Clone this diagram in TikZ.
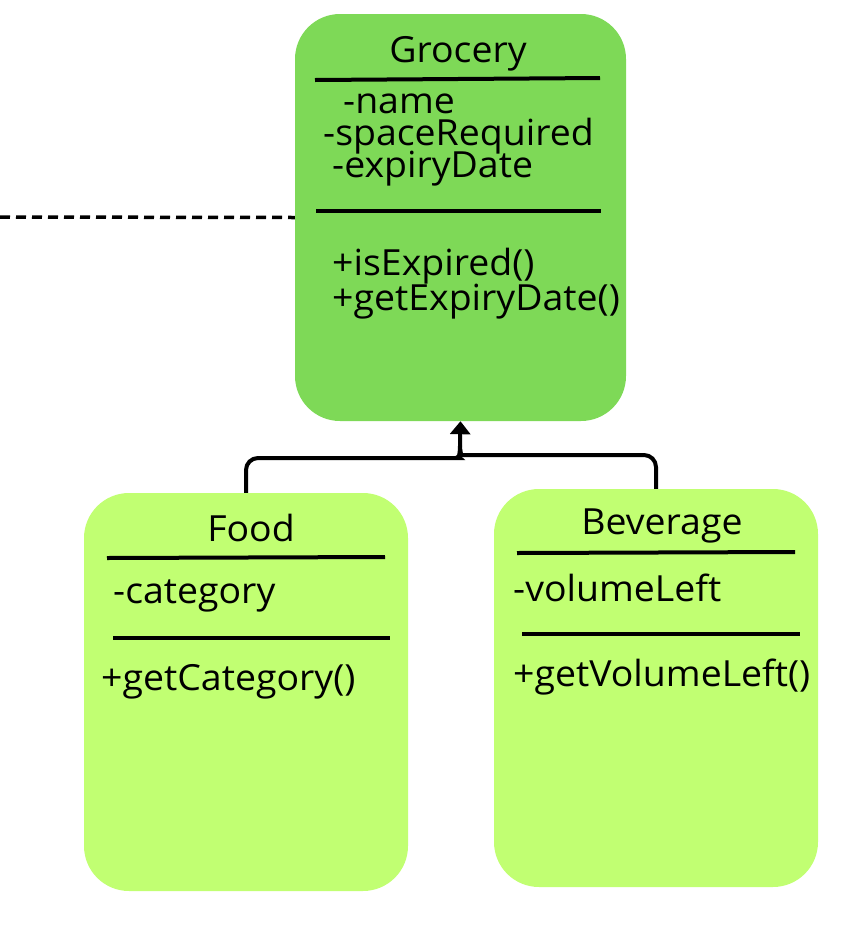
\documentclass[tikz,border=0pt]{standalone}
\usepackage{fontspec}
\setmainfont[FakeStretch=1.04]{Open Sans}
\usetikzlibrary{arrows.meta}
\definecolor{grocg}{HTML}{7ED957}
\definecolor{subg}{HTML}{C1FF72}
\begin{document}
\begin{tikzpicture}[x=1pt,y=-1pt,
  box/.style={rectangle, rounded corners=45pt, inner sep=0pt, draw=none},
  txt/.style={anchor=base west, inner sep=0pt, font=\fontsize{36}{42}\selectfont},
  ttl/.style={anchor=base, inner sep=0pt, font=\fontsize{36}{42}\selectfont},
  sep/.style={line width=4pt},
  conn/.style={line width=4pt, rounded corners=12pt},
  tipconn/.style={line width=4pt, -{Triangle[length=13pt,width=20pt]}},
  dashconn/.style={line width=3.5pt, dash pattern=on 10pt off 6pt}]
\useasboundingbox (0,0) rectangle (868,938);
% boxes
\node[box, fill=grocg, minimum width=331pt, minimum height=407pt] (grocery) at (460.5,217.5) {};
\node[box, fill=subg, minimum width=324pt, minimum height=398pt] (food) at (246,692) {};
\node[box, fill=subg, minimum width=324pt, minimum height=398pt] (bev) at (656,688) {};
% Grocery contents
\node[ttl] (gtitle) at (458,62) {Grocery};
\draw[sep] (315,80) -- (600,78);
\node[txt] (gname) at (343,113) {-name};
\node[txt] (gspace) at (323,145) {-spaceRequired};
\node[txt] (gexp) at (332,177) {-expiryDate};
\draw[sep] (316,211) -- (601,211);
\node[txt] (gisexp) at (332,275) {+isExpired()};
\node[txt] (ggetexp) at (332,310) {+getExpiryDate()};
% Food contents
\node[ttl] (ftitle) at (251,541) {Food};
\draw[sep] (107,558) -- (385,557);
\node[txt] (fcat) at (113,603) {-category};
\draw[sep] (113,638) -- (390,638);
\node[txt] (fgetcat) at (101,690) {+getCategory()};
% Beverage contents
\node[ttl] (btitle) at (662,534) {Beverage};
\draw[sep] (517,553) -- (795,552);
\node[txt] (bvol) at (513,601) {-volumeLeft};
\draw[sep] (522,634) -- (800,634);
\node[txt] (bgetvol) at (513,686) {+getVolumeLeft()};
% connectors
\coordinate (junction) at (460,446);
\coordinate (dashstart) at (0,217);
\draw[conn] (food.north) |- (448,458) .. controls (458,458) and (460,454) .. (junction);
\draw[conn] (bev.north) |- (472,455) .. controls (462,455) and (460,451) .. (junction);
\draw[tipconn] (junction) -- (grocery.south);
\draw[dashconn] (dashstart) -- (grocery.west);
\end{tikzpicture}
\end{document}
